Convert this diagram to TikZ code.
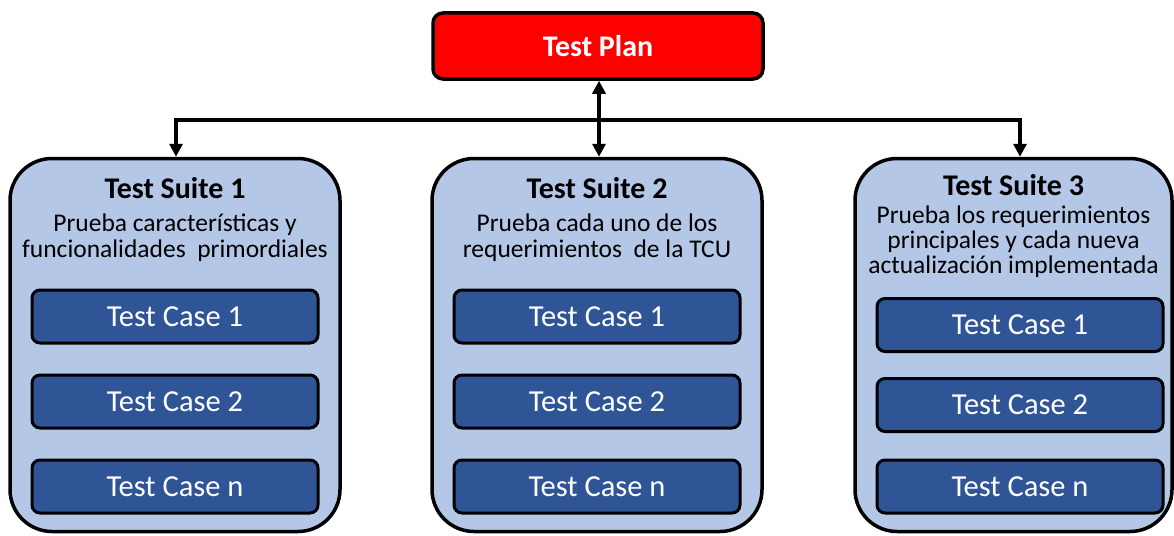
\documentclass[tikz,border=0pt]{standalone}
\usepackage{fontspec}
\setmainfont{Carlito}
\usetikzlibrary{arrows.meta}
\definecolor{planred}{HTML}{FF0000}
\definecolor{suitefill}{HTML}{B4C7E7}
\definecolor{casefill}{HTML}{2F5597}
\tikzset{
  planbox/.style={draw=black, line width=3.5pt, fill=planred, rounded corners=10pt,
    minimum width=330pt, minimum height=66pt, text=white, font=\fontsize{30}{32}\selectfont\bfseries},
  suitebox/.style={draw=black, line width=3.5pt, fill=suitefill, rounded corners=42pt,
    minimum height=373pt, inner sep=0pt},
  casebox/.style={draw=black, line width=3pt, fill=casefill, rounded corners=8pt,
    minimum width=286pt, minimum height=53pt, text=white, font=\fontsize{30.5}{33}\selectfont},
  suitetitle/.style={font=\fontsize{30}{32}\selectfont\bfseries, text=black, inner sep=0pt, anchor=base},
  suitedesc/.style={font=\fontsize{25.5}{27}\selectfont, text=black, inner sep=0pt, anchor=base},
  link/.style={line width=4pt, black},
  tip/.style={-{Triangle[width=13pt,length=13pt]}},
}
\begin{document}
\begin{tikzpicture}[x=1pt, y=-1pt]
\useasboundingbox (0,0) rectangle (1174,535);

% top level plan
\node[planbox] (plan) at (598,46) {\raisebox{-3pt}{Test Plan}};

% suites
\node[suitebox, minimum width=330pt] (s1) at (175,345) {};
\node[suitebox, minimum width=330pt] (s2) at (597,345) {};
\node[suitebox, minimum width=317pt] (s3) at (1013.5,345) {};

% suite headings and descriptions
\node[suitetitle] (t1) at (175,198) {Test Suite 1};
\node[suitedesc] (d1a) at (175,231.5) {Prueba características y};
\node[suitedesc] (d1b) at (175,257.5) {funcionalidades\ \ primordiales};
\node[suitetitle] (t2) at (597,198) {Test Suite 2};
\node[suitedesc] (d2a) at (597,231.5) {Prueba cada uno de los};
\node[suitedesc] (d2b) at (597,257.5) {requerimientos\ \ de la TCU};
\node[suitetitle] (t3) at (1013.5,195) {Test Suite 3};
\node[suitedesc] (d3a) at (1013.5,223) {Prueba los requerimientos};
\node[suitedesc] (d3b) at (1013.5,248) {principales y cada nueva};
\node[suitedesc] (d3c) at (1013.5,273) {actualización implementada};

% test cases
\node[casebox] (c11) at (175,316.5) {Test Case 1};
\node[casebox] (c12) at (175,401.5) {Test Case 2};
\node[casebox] (c1n) at (175,486.5) {Test Case n};
\node[casebox] (c21) at (597,316.5) {Test Case 1};
\node[casebox] (c22) at (597,401.5) {Test Case 2};
\node[casebox] (c2n) at (597,486.5) {Test Case n};
\node[casebox] (c31) at (1020,325) {Test Case 1};
\node[casebox] (c32) at (1020,405) {Test Case 2};
\node[casebox] (c3n) at (1020,486.5) {Test Case n};

% connectors
\coordinate (bus) at (599,120);
\draw[link, {Triangle[width=13pt,length=13pt]}-{Triangle[width=13pt,length=13pt]}]
  (plan.south -| bus) -- (s2.north -| bus);
\draw[link, tip] (bus) -| (s1.north -| 176,0);
\draw[link, tip] (bus) -| (s3.north -| 1020,0);
\end{tikzpicture}
\end{document}
